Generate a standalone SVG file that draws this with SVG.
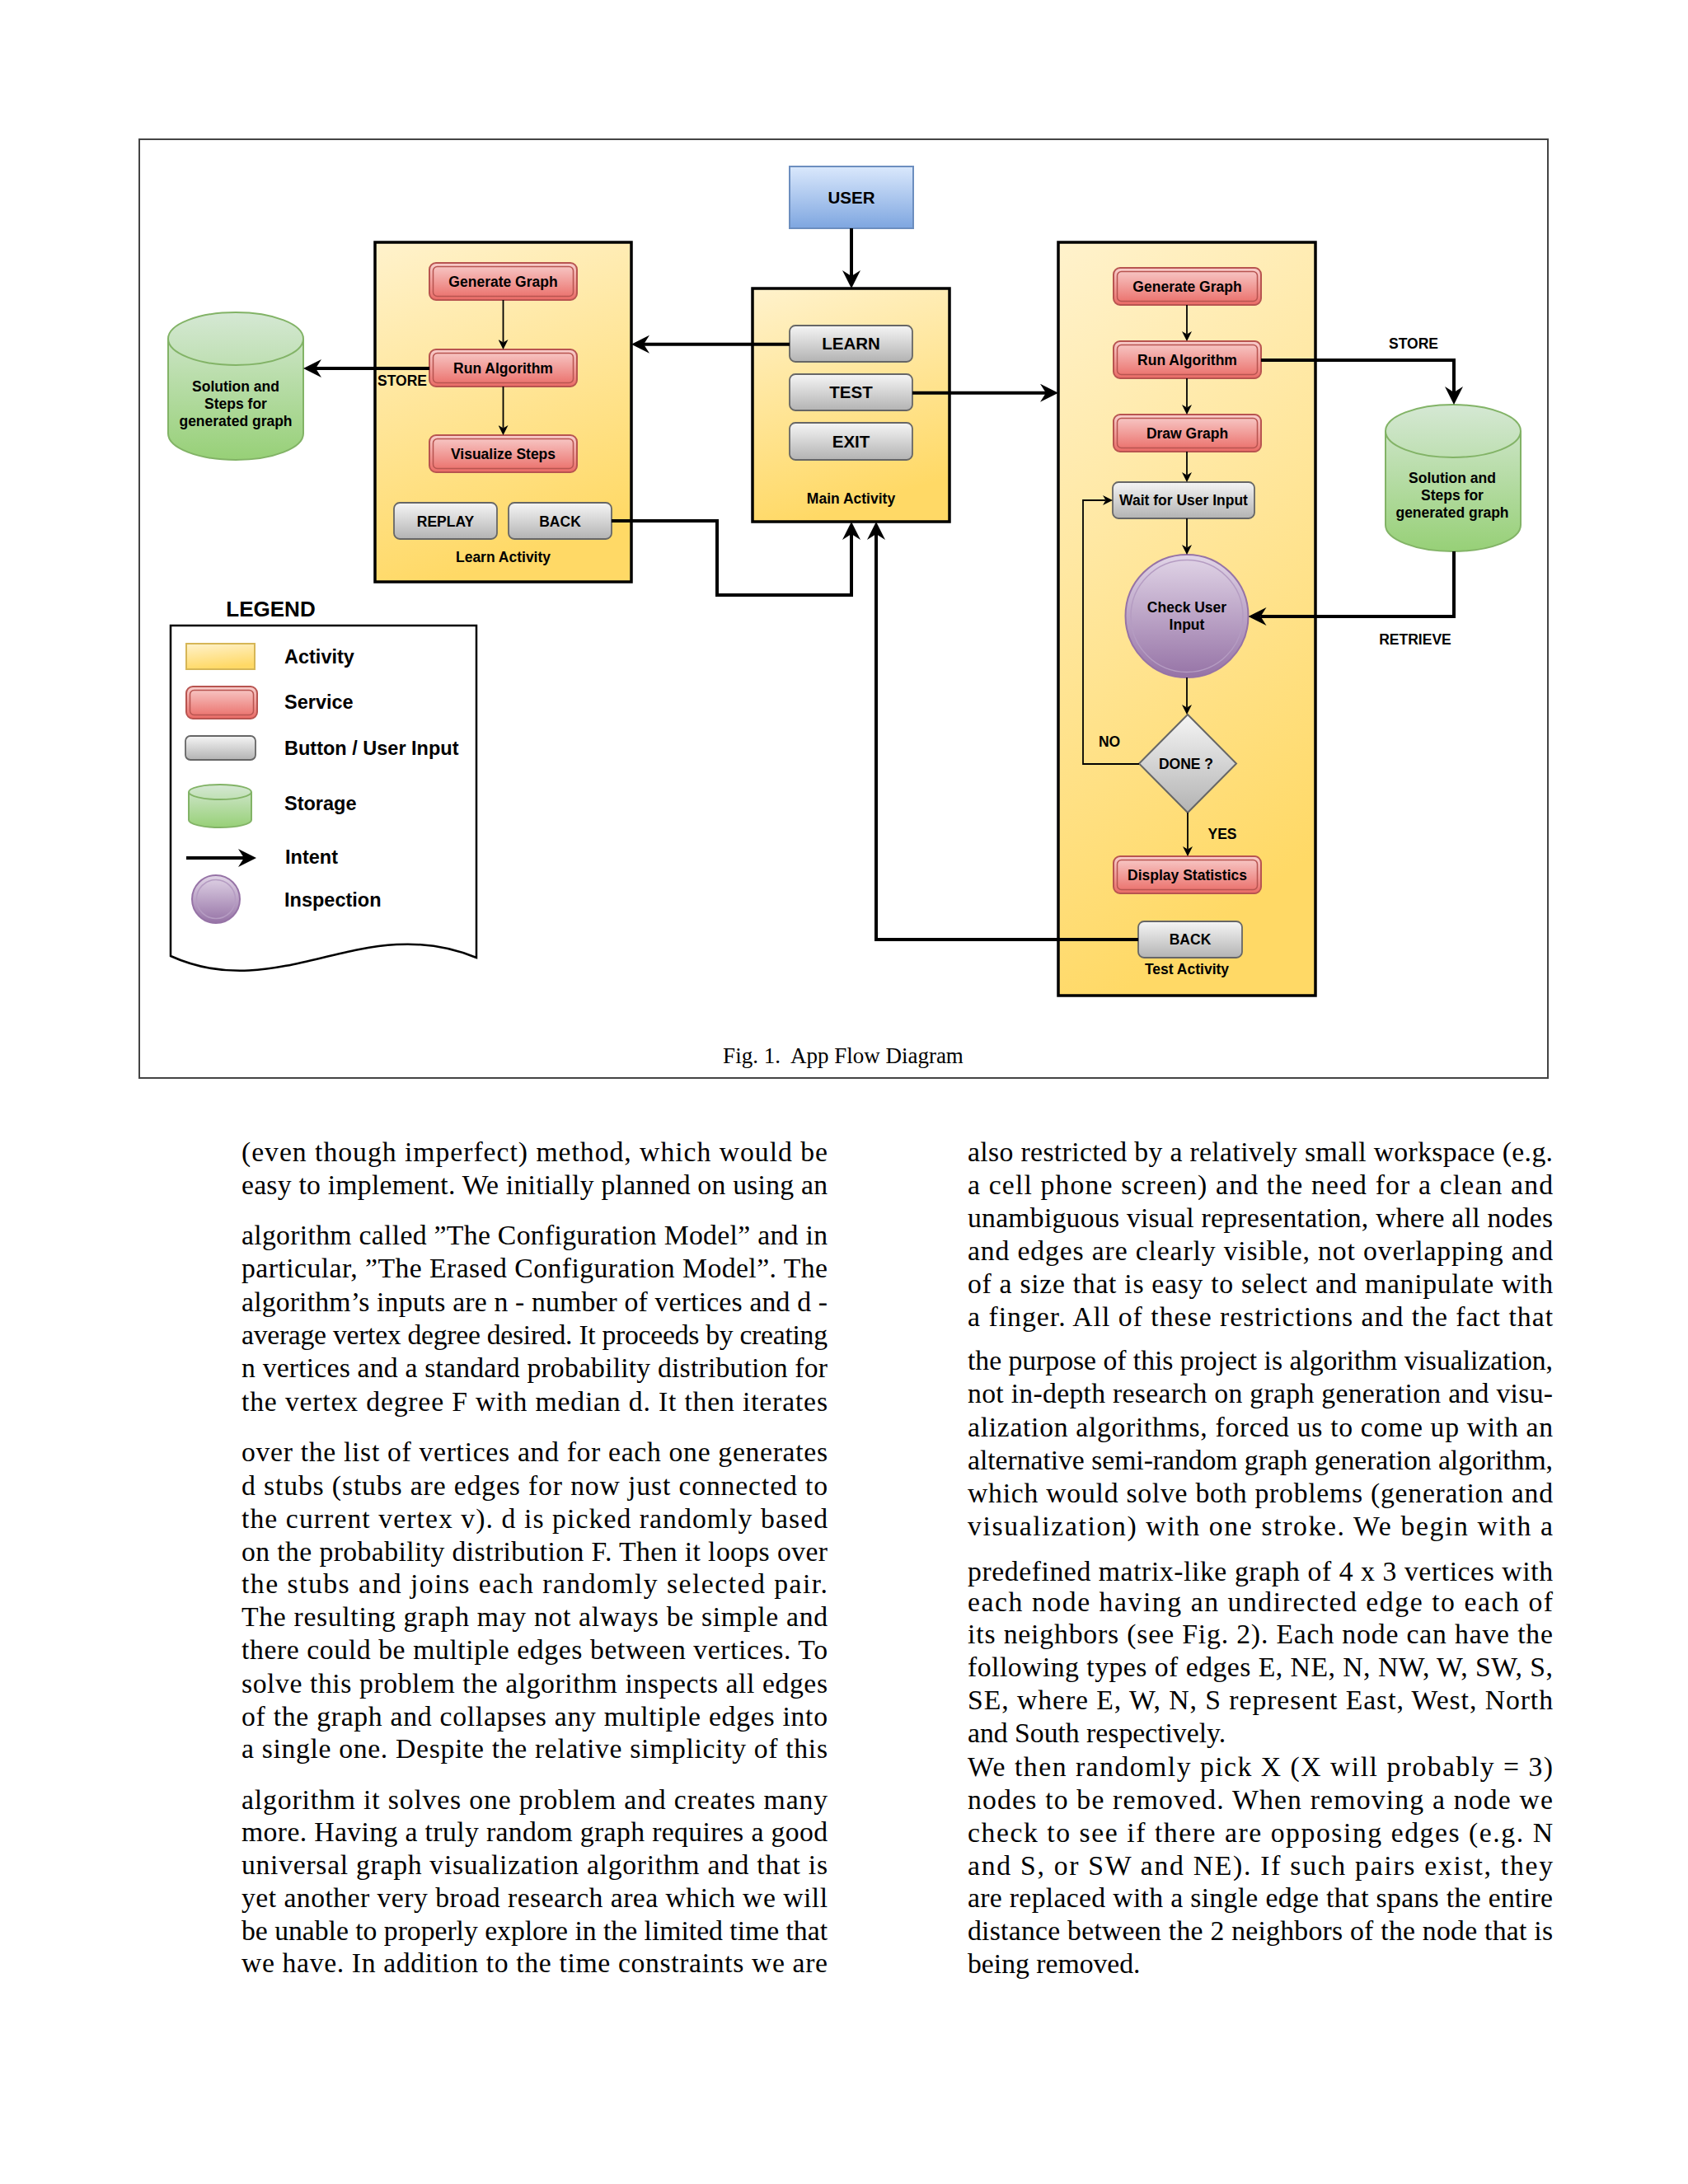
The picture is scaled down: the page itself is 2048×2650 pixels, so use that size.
<svg xmlns="http://www.w3.org/2000/svg" width="2048" height="2650" viewBox="0 0 2048 2650">
<defs>
<linearGradient id="gYel" x1="0" y1="0" x2="0.25" y2="1"><stop offset="0" stop-color="#fff2cc"/><stop offset="1" stop-color="#ffd966"/></linearGradient>
<linearGradient id="gRed" x1="0" y1="0" x2="0" y2="1"><stop offset="0" stop-color="#f8cecc"/><stop offset="1" stop-color="#ea6b66"/></linearGradient>
<linearGradient id="gGray" x1="0" y1="0" x2="0" y2="1"><stop offset="0" stop-color="#f5f5f5"/><stop offset="1" stop-color="#b3b3b3"/></linearGradient>
<linearGradient id="gBlue" x1="0" y1="0" x2="0" y2="1"><stop offset="0" stop-color="#dae8fc"/><stop offset="1" stop-color="#7ea6e0"/></linearGradient>
<linearGradient id="gGreen" x1="0" y1="0" x2="0" y2="1"><stop offset="0" stop-color="#d5e8d4"/><stop offset="1" stop-color="#97d077"/></linearGradient>
<linearGradient id="gPurple" x1="0" y1="0" x2="0" y2="1"><stop offset="0" stop-color="#e1d5e7"/><stop offset="1" stop-color="#9673a6"/></linearGradient>
<marker id="ah" markerUnits="userSpaceOnUse" viewBox="0 0 22 22" markerWidth="22" markerHeight="22" refX="7" refY="11" orient="auto"><path d="M0,0 L22,11 L0,22 L7,11 Z" fill="#000"/></marker>
<marker id="as" markerUnits="userSpaceOnUse" viewBox="0 0 12 12" markerWidth="12" markerHeight="12" refX="3.5" refY="6" orient="auto"><path d="M0,0 L12,6 L0,12 L3.5,6 Z" fill="#000"/></marker>
<style>
.act{fill:url(#gYel);stroke:#000;stroke-width:3.5}
.svc{fill:url(#gRed);stroke:#b85450;stroke-width:2}
.svcin{fill:none;stroke:#b85450;stroke-width:1.5}
.btn{fill:url(#gGray);stroke:#666;stroke-width:1.8}
.cyl{fill:url(#gGreen);stroke:#82b366;stroke-width:2}
.rim{fill:none;stroke:#82b366;stroke-width:2}
.insp{fill:url(#gPurple);stroke:#9673a6;stroke-width:2}
.inspin{fill:none;stroke:#b59cc2;stroke-width:1.5}
.lbl{font-family:"Liberation Sans",Arial,sans-serif;font-weight:bold;font-size:17.5px;fill:#000;text-anchor:middle}
.big{font-size:20.5px}
.leg{font-size:23.5px;text-anchor:start}
.title{font-size:26px;text-anchor:middle}
.body{font-family:"Liberation Serif","Times New Roman",serif;font-size:33.7px;fill:#000}
.cap{font-family:"Liberation Serif","Times New Roman",serif;font-size:27px;fill:#000;text-anchor:middle}
.thick{fill:none;stroke:#000;stroke-width:4;marker-end:url(#ah)}
.thin{fill:none;stroke:#000;stroke-width:1.8;marker-end:url(#as)}
</style>
</defs>
<rect width="2048" height="2650" fill="#fff"/>
<rect id="figure-frame" x="169" y="169" width="1709" height="1139" fill="none" stroke="#444" stroke-width="2"/>

<!-- Learn Activity -->
<g id="learn-activity">
<rect class="act" x="455" y="294" width="311" height="412"/>
<text class="lbl" x="610.5" y="682">Learn Activity</text>
</g>
<g id="learn-generate"><rect class="svc" x="521" y="319" width="179" height="45" rx="8"/><rect class="svcin" x="525.5" y="323.5" width="170" height="36" rx="5"/><text class="lbl" x="610.5" y="348">Generate Graph</text></g>
<g id="learn-run"><rect class="svc" x="521" y="424" width="179" height="45" rx="8"/><rect class="svcin" x="525.5" y="428.5" width="170" height="36" rx="5"/><text class="lbl" x="610.5" y="452.5">Run Algorithm</text></g>
<g id="learn-visualize"><rect class="svc" x="521" y="528" width="179" height="45" rx="8"/><rect class="svcin" x="525.5" y="532.5" width="170" height="36" rx="5"/><text class="lbl" x="610.5" y="556.5">Visualize Steps</text></g>
<g id="learn-replay"><rect class="btn" x="478" y="610" width="125" height="44" rx="7"/><text class="lbl" x="540.5" y="638.5">REPLAY</text></g>
<g id="learn-back"><rect class="btn" x="617" y="610" width="125" height="44" rx="7"/><text class="lbl" x="679.5" y="638.5">BACK</text></g>

<!-- Left storage -->
<g id="storage-left">
<path class="cyl" d="M204,411 A82,32 0 0 1 368,411 V526 A82,32 0 0 1 204,526 Z"/>
<path class="rim" d="M204,411 A82,32 0 0 0 368,411"/>
<text class="lbl" x="286" y="475">Solution and</text>
<text class="lbl" x="286" y="496">Steps for</text>
<text class="lbl" x="286" y="517">generated graph</text>
</g>

<!-- Main Activity -->
<g id="user"><rect x="958" y="202" width="150" height="75" fill="url(#gBlue)" stroke="#6c8ebf" stroke-width="2"/><text class="lbl big" x="1033" y="246.5">USER</text></g>
<g id="main-activity">
<rect class="act" x="913" y="350" width="239" height="283"/>
<text class="lbl" x="1032.5" y="611">Main Activity</text>
</g>
<g id="main-learn"><rect class="btn" x="958" y="395" width="149" height="44" rx="7"/><text class="lbl big" x="1032.5" y="424">LEARN</text></g>
<g id="main-test"><rect class="btn" x="958" y="454" width="149" height="44" rx="7"/><text class="lbl big" x="1032.5" y="483">TEST</text></g>
<g id="main-exit"><rect class="btn" x="958" y="513" width="149" height="45" rx="7"/><text class="lbl big" x="1032.5" y="542.5">EXIT</text></g>

<!-- Test Activity -->
<g id="test-activity">
<rect class="act" x="1284" y="294" width="312" height="914"/>
<text class="lbl" x="1440" y="1182">Test Activity</text>
</g>
<g id="test-generate"><rect class="svc" x="1351" y="325" width="179" height="45" rx="8"/><rect class="svcin" x="1355.5" y="329.5" width="170" height="36" rx="5"/><text class="lbl" x="1440.5" y="353.5">Generate Graph</text></g>
<g id="test-run"><rect class="svc" x="1351" y="414" width="179" height="45" rx="8"/><rect class="svcin" x="1355.5" y="418.5" width="170" height="36" rx="5"/><text class="lbl" x="1440.5" y="442.5">Run Algorithm</text></g>
<g id="test-draw"><rect class="svc" x="1351" y="503" width="179" height="45" rx="8"/><rect class="svcin" x="1355.5" y="507.5" width="170" height="36" rx="5"/><text class="lbl" x="1440.5" y="531.5">Draw Graph</text></g>
<g id="test-wait"><rect class="btn" x="1350" y="585" width="172" height="44" rx="7"/><text class="lbl" x="1436" y="613">Wait for User Input</text></g>
<g id="test-check"><circle class="insp" cx="1440" cy="747.5" r="74.5"/><circle class="inspin" cx="1440" cy="747.5" r="68"/><text class="lbl" x="1440" y="743">Check User</text><text class="lbl" x="1440" y="764">Input</text></g>
<g id="test-done"><path d="M1441,867 L1500,926.5 L1441,986 L1382,926.5 Z" fill="url(#gGray)" stroke="#666" stroke-width="2"/><text class="lbl" x="1439" y="933">DONE ?</text></g>
<g id="test-display"><rect class="svc" x="1351" y="1039" width="179" height="45" rx="8"/><rect class="svcin" x="1355.5" y="1043.5" width="170" height="36" rx="5"/><text class="lbl" x="1440.5" y="1067.5">Display Statistics</text></g>
<g id="test-back"><rect class="btn" x="1381" y="1118" width="126" height="44" rx="7"/><text class="lbl" x="1444" y="1146">BACK</text></g>

<!-- Right storage -->
<g id="storage-right">
<path class="cyl" d="M1681,523 A82,32 0 0 1 1845,523 V637 A82,32 0 0 1 1681,637 Z"/>
<path class="rim" d="M1681,523 A82,32 0 0 0 1845,523"/>
<text class="lbl" x="1762" y="586">Solution and</text>
<text class="lbl" x="1762" y="607">Steps for</text>
<text class="lbl" x="1762" y="628">generated graph</text>
</g>

<!-- Connectors -->
<g id="connectors">
<path class="thick" d="M1033,277 V335"/>
<path class="thick" d="M958,417.7 H781"/>
<path class="thick" d="M1107,476.7 H1269"/>
<path class="thick" d="M521,447 H383"/>
<path class="thick" d="M742,632 H870 V722 H1033 V648"/>
<path class="thick" d="M1381,1140 H1063 V648"/>
<path class="thick" d="M1530,437 H1764 V476"/>
<path class="thick" d="M1764,669 V748 H1529.5"/>
<path class="thin" d="M610.5,364 V415.5"/>
<path class="thin" d="M610.5,469 V519.5"/>
<path class="thin" d="M1440,370 V405.5"/>
<path class="thin" d="M1440,459 V494.5"/>
<path class="thin" d="M1440,548 V576.5"/>
<path class="thin" d="M1440,629 V664.5"/>
<path class="thin" d="M1440,822 V858.5"/>
<path class="thin" d="M1441,986 V1030.5"/>
<path class="thin" d="M1382,927 H1314 V607 H1341.5"/>
<text class="lbl" x="458" y="468" style="text-anchor:start">STORE</text>
<text class="lbl" x="1715" y="423">STORE</text>
<text class="lbl" x="1717" y="782">RETRIEVE</text>
<text class="lbl" x="1346" y="906">NO</text>
<text class="lbl" x="1483" y="1018">YES</text>
</g>

<!-- Legend -->
<g id="legend">
<text class="lbl title" x="328.5" y="747.5">LEGEND</text>
<path d="M207,759 H578 V1162 C440,1105 340,1220 207,1160 Z" fill="#fff" stroke="#000" stroke-width="2.5"/>
<rect x="226" y="781" width="83" height="31" fill="url(#gYel)" stroke="#d6b656" stroke-width="2"/>
<text class="lbl leg" x="345" y="805">Activity</text>
<rect class="svc" x="226" y="833" width="86" height="39" rx="8"/><rect class="svcin" x="230.5" y="837.5" width="77" height="30" rx="5"/>
<text class="lbl leg" x="345" y="860">Service</text>
<rect class="btn" x="225" y="893" width="85" height="29" rx="6"/>
<text class="lbl leg" x="345" y="916">Button / User Input</text>
<path class="cyl" d="M229,961 A38,9 0 0 1 305,961 V995 A38,9 0 0 1 229,995 Z"/>
<path class="rim" d="M229,961 A38,9 0 0 0 305,961"/>
<text class="lbl leg" x="345" y="983">Storage</text>
<path class="thick" d="M226,1041 H296"/>
<text class="lbl leg" x="346" y="1048">Intent</text>
<circle class="insp" cx="262" cy="1091" r="29"/><circle class="inspin" cx="262" cy="1091" r="23.5"/>
<text class="lbl leg" x="345" y="1100">Inspection</text>
</g>

<text class="cap" x="1023" y="1290" xml:space="preserve">Fig. 1.  App Flow Diagram</text>

<g id="text-left" class="body">
<text x="293" y="1408.5" textLength="711" lengthAdjust="spacing">(even though imperfect) method, which would be</text>
<text x="293" y="1448.5" textLength="711" lengthAdjust="spacing">easy to implement. We initially planned on using an</text>
<text x="293" y="1509.5" textLength="711" lengthAdjust="spacing">algorithm called ”The Configuration Model” and in</text>
<text x="293" y="1549.5" textLength="711" lengthAdjust="spacing">particular, ”The Erased Configuration Model”. The</text>
<text x="293" y="1590.5" textLength="711" lengthAdjust="spacing">algorithm’s inputs are n - number of vertices and d -</text>
<text x="293" y="1630.5" textLength="711" lengthAdjust="spacing">average vertex degree desired. It proceeds by creating</text>
<text x="293" y="1670.5" textLength="711" lengthAdjust="spacing">n vertices and a standard probability distribution for</text>
<text x="293" y="1711.5" textLength="711" lengthAdjust="spacing">the vertex degree F with median d. It then iterates</text>
<text x="293" y="1772.5" textLength="711" lengthAdjust="spacing">over the list of vertices and for each one generates</text>
<text x="293" y="1813.5" textLength="711" lengthAdjust="spacing">d stubs (stubs are edges for now just connected to</text>
<text x="293" y="1853.5" textLength="711" lengthAdjust="spacing">the current vertex v). d is picked randomly based</text>
<text x="293" y="1893.5" textLength="711" lengthAdjust="spacing">on the probability distribution F. Then it loops over</text>
<text x="293" y="1932.5" textLength="711" lengthAdjust="spacing">the stubs and joins each randomly selected pair.</text>
<text x="293" y="1972.5" textLength="711" lengthAdjust="spacing">The resulting graph may not always be simple and</text>
<text x="293" y="2012.5" textLength="711" lengthAdjust="spacing">there could be multiple edges between vertices. To</text>
<text x="293" y="2053.5" textLength="711" lengthAdjust="spacing">solve this problem the algorithm inspects all edges</text>
<text x="293" y="2093.5" textLength="711" lengthAdjust="spacing">of the graph and collapses any multiple edges into</text>
<text x="293" y="2132.5" textLength="711" lengthAdjust="spacing">a single one. Despite the relative simplicity of this</text>
<text x="293" y="2194.5" textLength="711" lengthAdjust="spacing">algorithm it solves one problem and creates many</text>
<text x="293" y="2233.5" textLength="711" lengthAdjust="spacing">more. Having a truly random graph requires a good</text>
<text x="293" y="2273.5" textLength="711" lengthAdjust="spacing">universal graph visualization algorithm and that is</text>
<text x="293" y="2313.5" textLength="711" lengthAdjust="spacing">yet another very broad research area which we will</text>
<text x="293" y="2353.5" textLength="711" lengthAdjust="spacing">be unable to properly explore in the limited time that</text>
<text x="293" y="2392.5" textLength="711" lengthAdjust="spacing">we have. In addition to the time constraints we are</text>
</g>

<g id="text-right" class="body">
<text x="1174" y="1408.5" textLength="710" lengthAdjust="spacing">also restricted by a relatively small workspace (e.g.</text>
<text x="1174" y="1448.5" textLength="710" lengthAdjust="spacing">a cell phone screen) and the need for a clean and</text>
<text x="1174" y="1488.5" textLength="710" lengthAdjust="spacing">unambiguous visual representation, where all nodes</text>
<text x="1174" y="1528.5" textLength="710" lengthAdjust="spacing">and edges are clearly visible, not overlapping and</text>
<text x="1174" y="1568.5" textLength="710" lengthAdjust="spacing">of a size that is easy to select and manipulate with</text>
<text x="1174" y="1608.5" textLength="710" lengthAdjust="spacing">a finger. All of these restrictions and the fact that</text>
<text x="1174" y="1661.5" textLength="710" lengthAdjust="spacing">the purpose of this project is algorithm visualization,</text>
<text x="1174" y="1701.5" textLength="710" lengthAdjust="spacing">not in-depth research on graph generation and visu-</text>
<text x="1174" y="1742.5" textLength="710" lengthAdjust="spacing">alization algorithms, forced us to come up with an</text>
<text x="1174" y="1782.5" textLength="710" lengthAdjust="spacing">alternative semi-random graph generation algorithm,</text>
<text x="1174" y="1822.5" textLength="710" lengthAdjust="spacing">which would solve both problems (generation and</text>
<text x="1174" y="1862.5" textLength="710" lengthAdjust="spacing">visualization) with one stroke. We begin with a</text>
<text x="1174" y="1917.5" textLength="710" lengthAdjust="spacing">predefined matrix-like graph of 4 x 3 vertices with</text>
<text x="1174" y="1954.5" textLength="710" lengthAdjust="spacing">each node having an undirected edge to each of</text>
<text x="1174" y="1993.5" textLength="710" lengthAdjust="spacing">its neighbors (see Fig. 2). Each node can have the</text>
<text x="1174" y="2033.5" textLength="710" lengthAdjust="spacing">following types of edges E, NE, N, NW, W, SW, S,</text>
<text x="1174" y="2073.5" textLength="710" lengthAdjust="spacing">SE, where E, W, N, S represent East, West, North</text>
<text x="1174" y="2113.5">and South respectively.</text>
<text x="1174" y="2154.5" textLength="710" lengthAdjust="spacing">We then randomly pick X (X will probably = 3)</text>
<text x="1174" y="2194.5" textLength="710" lengthAdjust="spacing">nodes to be removed. When removing a node we</text>
<text x="1174" y="2234.5" textLength="710" lengthAdjust="spacing">check to see if there are opposing edges (e.g. N</text>
<text x="1174" y="2274.5" textLength="710" lengthAdjust="spacing">and S, or SW and NE). If such pairs exist, they</text>
<text x="1174" y="2313.5" textLength="710" lengthAdjust="spacing">are replaced with a single edge that spans the entire</text>
<text x="1174" y="2353.5" textLength="710" lengthAdjust="spacing">distance between the 2 neighbors of the node that is</text>
<text x="1174" y="2393.5">being removed.</text>
</g>
</svg>
